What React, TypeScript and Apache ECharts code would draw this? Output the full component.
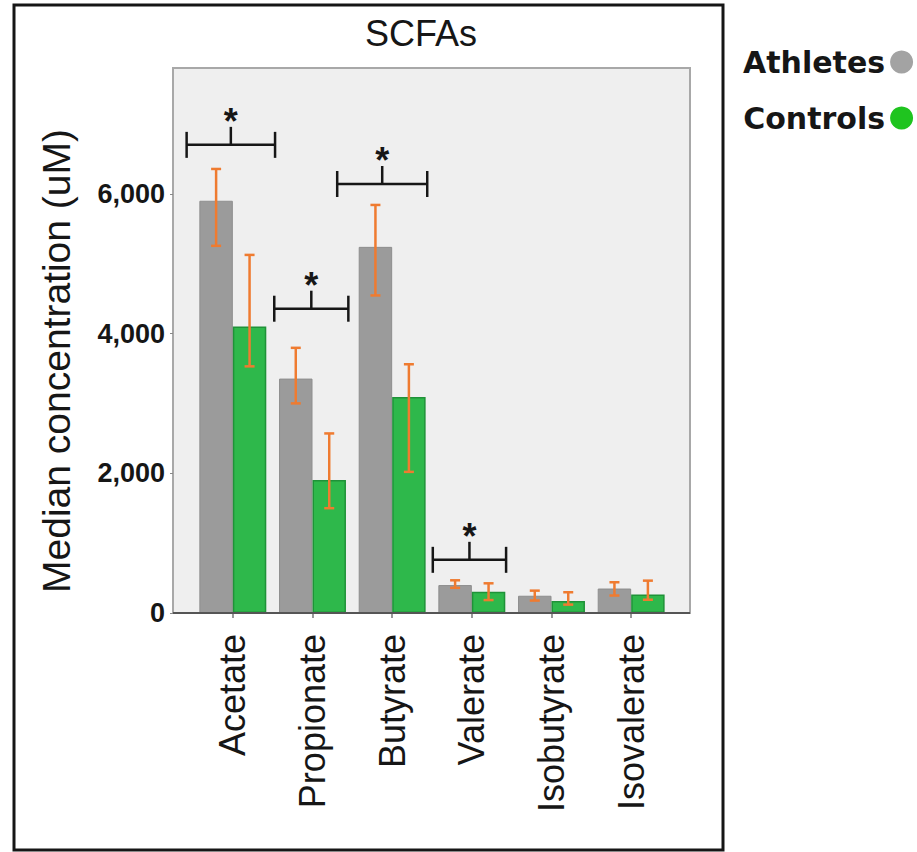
import React, { useEffect, useRef } from "react";
import * as echarts from "echarts";

// SCFA medians (uM) with the whisker range for each group
const categories = ["Acetate", "Propionate", "Butyrate", "Valerate", "Isobutyrate", "Isovalerate"];
const athletesMedian = [5900, 3355, 5240, 400, 247, 350];
const athletesLow = [5255, 3000, 4545, 360, 178, 250];
const athletesHigh = [6355, 3795, 5840, 468, 320, 440];
const controlsMedian = [4100, 1905, 3090, 305, 170, 265];
const controlsLow = [3530, 1500, 2020, 185, 120, 190];
const controlsHigh = [5125, 2570, 3560, 425, 297, 463];
const yTicks = [0, 2000, 4000, 6000];

// significance brackets: category, bracket height (uM), span relative to the category centre (in category widths)
const sigCategories = [0, 1, 2, 3];
const sigHeights = [6700, 4355, 6140, 761];
const sigFrom = [-0.58, -0.48, -0.69, -0.49];
const sigTo = [0.53, 0.45, 0.44, 0.43];

const FONT = '"Liberation Sans", Arial, Helvetica, sans-serif';
const ORANGE = "#ef7b30";
const INK = "#161616";

// grey panel drawn a little wider than the category band
const PANEL = { x: 173, y: 68, w: 517, h: 545 };

const errorBars = (side: number, low: number[], high: number[], name: string) => ({
  name,
  type: "custom",
  z: 4,
  encode: { x: 0, y: [1, 2] },
  data: categories.map((_, i) => [i, low[i], high[i]]),
  renderItem: (_params: any, api: any) => {
    const idx = api.value(0);
    const lo = api.coord([idx, api.value(1)]);
    const hi = api.coord([idx, api.value(2)]);
    const band = api.size([1, 0])[0];
    const x = lo[0] + side * band * 0.21;
    const cap = 5;
    const style = { stroke: ORANGE, lineWidth: 2.5, fill: "none" };
    return {
      type: "group",
      children: [
        { type: "line", shape: { x1: x, y1: hi[1], x2: x, y2: lo[1] }, style },
        { type: "line", shape: { x1: x - cap, y1: hi[1], x2: x + cap, y2: hi[1] }, style },
        { type: "line", shape: { x1: x - cap, y1: lo[1], x2: x + cap, y2: lo[1] }, style },
      ],
    };
  },
});

export default function App() {
  const ref = useRef<HTMLDivElement>(null);

  useEffect(() => {
    if (!ref.current) return;
    const chart = echarts.init(ref.current, null, { renderer: "svg" });

    const option: any = {
      animation: false,
      backgroundColor: "#ffffff",
      title: {
        text: "SCFAs",
        left: 365,
        top: 15,
        padding: 0,
        textStyle: { fontFamily: FONT, fontWeight: "normal", fontSize: 36, color: INK },
      },
      legend: {
        orient: "vertical",
        left: 743,
        top: 47,
        padding: 0,
        align: "right",
        icon: "circle",
        itemWidth: 23,
        itemHeight: 23,
        itemGap: 26,
        selectedMode: false,
        textStyle: {
          fontFamily: '"DejaVu Sans", sans-serif',
          fontWeight: "bold",
          fontSize: 30,
          lineHeight: 30,
          color: INK,
        },
        data: [
          { name: "Athletes", itemStyle: { color: "#a3a3a3", borderWidth: 0 } },
          { name: "Controls", itemStyle: { color: "#1fc41f", borderWidth: 0 } },
        ],
      },
      grid: { left: 193, right: 246, top: 68, bottom: 239 },
      xAxis: {
        type: "category",
        data: categories,
        axisLine: { show: false },
        axisTick: { show: true, alignWithLabel: true, length: 5, lineStyle: { color: "#777", width: 1.5 } },
        axisLabel: { rotate: 90, margin: 21, interval: 0, fontFamily: FONT, fontSize: 36, color: INK },
      },
      yAxis: {
        type: "value",
        min: 0,
        max: 7800,
        interval: 2000,
        offset: 20,
        name: "Median concentration (uM)",
        nameLocation: "middle",
        nameRotate: 90,
        nameGap: 97,
        nameTextStyle: { fontFamily: FONT, fontSize: 39, color: INK, padding: [0, 41, 0, 0] },
        axisLine: { show: false },
        axisTick: { show: true, length: 3, customValues: yTicks, lineStyle: { color: "#888" } },
        axisLabel: {
          customValues: yTicks,
          margin: 8,
          fontFamily: FONT,
          fontWeight: "bold",
          fontSize: 27,
          color: INK,
          formatter: (v: number) => v.toLocaleString("en-US"),
        },
        splitLine: { show: false },
      },
      graphic: [
        {
          type: "rect",
          z: -1,
          silent: true,
          shape: { x: PANEL.x, y: PANEL.y, width: PANEL.w, height: PANEL.h },
          style: { fill: "#efefef", stroke: "#a8a8a8", lineWidth: 2 },
        },
        {
          type: "line",
          z: 10,
          silent: true,
          shape: { x1: PANEL.x, y1: PANEL.y + PANEL.h, x2: PANEL.x + PANEL.w, y2: PANEL.y + PANEL.h },
          style: { stroke: "#555", lineWidth: 2 },
        },
        {
          type: "rect",
          z: 10,
          silent: true,
          shape: { x: 14, y: 5, width: 709, height: 845 },
          style: { fill: "none", stroke: INK, lineWidth: 3 },
        },
      ],
      series: [
        {
          name: "Athletes",
          type: "bar",
          data: athletesMedian,
          barWidth: "42%",
          barGap: "0%",
          itemStyle: { color: "#9b9b9b", borderColor: "#8e8e8e", borderWidth: 1 },
        },
        {
          name: "Controls",
          type: "bar",
          data: controlsMedian,
          barWidth: "42%",
          barGap: "0%",
          itemStyle: { color: "#2eb84b", borderColor: "#1f9238", borderWidth: 1.5 },
        },
        errorBars(-1, athletesLow, athletesHigh, "Athletes range"),
        errorBars(1, controlsLow, controlsHigh, "Controls range"),
        {
          name: "Significance",
          type: "custom",
          z: 5,
          encode: { x: 0, y: 1 },
          data: sigCategories.map((c, k) => [c, sigHeights[k], sigFrom[k], sigTo[k]]),
          renderItem: (_params: any, api: any) => {
            const p = api.coord([api.value(0), api.value(1)]);
            const band = api.size([1, 0])[0];
            const x1 = p[0] + api.value(2) * band;
            const x2 = p[0] + api.value(3) * band;
            const xm = (x1 + x2) / 2;
            const y = p[1];
            const style = { stroke: INK, lineWidth: 2.5, fill: "none" };
            return {
              type: "group",
              children: [
                { type: "line", shape: { x1, y1: y, x2, y2: y }, style },
                { type: "line", shape: { x1, y1: y - 13, x2: x1, y2: y + 13 }, style },
                { type: "line", shape: { x1: x2, y1: y - 13, x2, y2: y + 13 }, style },
                { type: "line", shape: { x1: xm, y1: y - 18, x2: xm, y2: y }, style },
                {
                  type: "text",
                  x: xm,
                  y: y - 23,
                  style: {
                    text: "*",
                    fill: INK,
                    fontFamily: FONT,
                    fontWeight: "bold",
                    fontSize: 36,
                    align: "center",
                    verticalAlign: "middle",
                  },
                },
              ],
            };
          },
        },
      ],
    };

    chart.setOption(option);
    return () => chart.dispose();
  }, []);

  return (
    <div
      ref={ref}
      style={{ position: "fixed", left: 0, top: 0, width: 917, height: 852, background: "#ffffff" }}
    />
  );
}
